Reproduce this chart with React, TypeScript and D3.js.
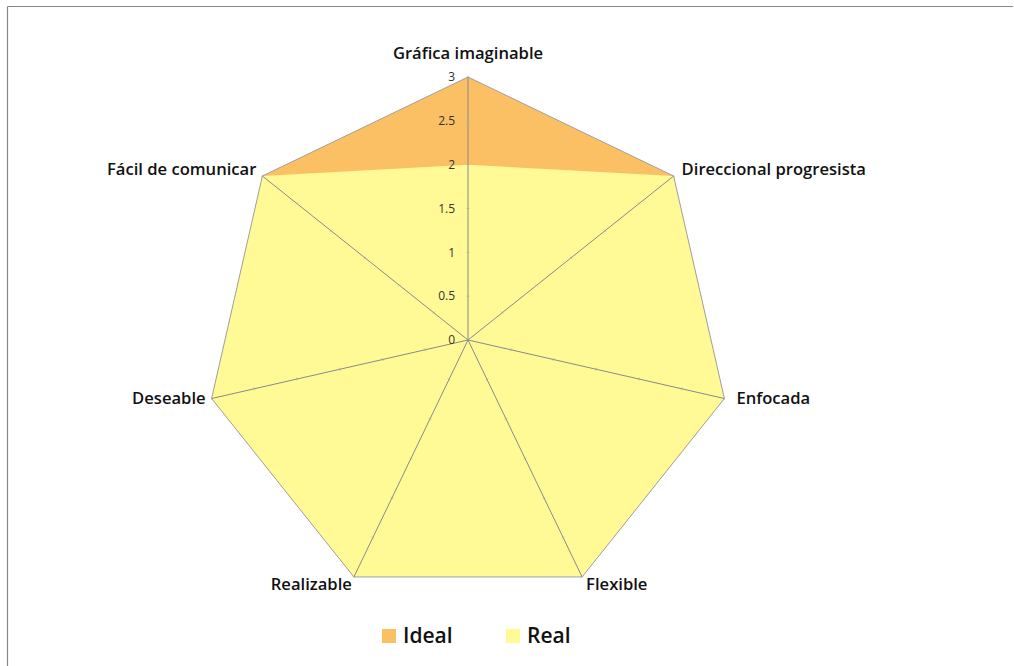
import React from "react";
import * as d3 from "d3";

const categories = [
  "Gráfica imaginable",
  "Direccional progresista",
  "Enfocada",
  "Flexible",
  "Realizable",
  "Deseable",
  "Fácil de comunicar",
];
const idealValues = [3, 3, 3, 3, 3, 3, 3];
const realValues = [2, 3, 3, 3, 3, 3, 3];
const tickValues = [0, 0.5, 1, 1.5, 2, 2.5, 3];
const tickLabels = ["0", "0.5", "1", "1.5", "2", "2.5", "3"];
const seriesNames = ["Ideal", "Real"];

const W = 1014;
const H = 666;
const cx = 468;
const cy = 340;
const R = 263;
const ORANGE = "#FBC063";
const YELLOW = "#FFFA96";
const FONT = "'Open Sans', Lato, sans-serif";

// label placement per axis: [dx, dy, anchor]
const labelOffsets: [number, number, string][] = [
  [0, -24, "middle"],
  [8, -7, "start"],
  [12, 0, "start"],
  [4, 7, "start"],
  [-2, 7, "end"],
  [-6, 0, "end"],
  [-6, -7, "end"],
];

export default function App() {
  const n = categories.length;
  const angle = d3
    .scaleLinear()
    .domain([0, n])
    .range([0, 2 * Math.PI]);
  const r = d3.scaleLinear().domain([0, 3]).range([0, R]);

  const pt = (i: number, v: number): [number, number] => {
    const a = angle(i);
    return [cx + r(v) * Math.sin(a), cy - r(v) * Math.cos(a)];
  };

  const line = d3
    .line<number>()
    .x((d, i) => pt(i, d)[0])
    .y((d, i) => pt(i, d)[1])
    .curve(d3.curveLinearClosed);

  return (
    <svg
      width={W}
      height={H}
      style={{ position: "absolute", left: 0, top: 0, background: "#fff" }}
    >
      <rect x={0} y={0} width={W} height={H} fill="#fff" />
      <line x1={7.5} y1={6.5} x2={1013} y2={6.5} stroke="#888" strokeWidth={1.2} />
      <line x1={7.5} y1={6.5} x2={7.5} y2={H} stroke="#888" strokeWidth={1.2} />

      <path d={line(idealValues) || ""} fill={ORANGE} stroke="none" />
      <path d={line(realValues) || ""} fill={YELLOW} stroke="none" />
      <path d={line(idealValues) || ""} fill="none" stroke="#a0a0a0" strokeWidth={1} />

      {categories.map((c, i) => {
        const [x, y] = pt(i, 3);
        return (
          <line key={"s" + i} x1={cx} y1={cy} x2={x} y2={y} stroke="#8a8a8a" strokeWidth={1} />
        );
      })}
      {categories.map((c, i) =>
        tickValues.slice(1).map((t) => {
          const [x, y] = pt(i, t);
          const a = angle(i);
          const px = Math.cos(a) * 1.5;
          const py = Math.sin(a) * 1.5;
          return (
            <line
              key={"t" + i + "-" + t}
              x1={x - px}
              y1={y - py}
              x2={x + px}
              y2={y + py}
              stroke="#b0b0a0"
              strokeWidth={0.8}
            />
          );
        })
      )}

      {tickValues.map((t, i) => (
        <text
          key={"tl" + i}
          x={455}
          y={cy - r(t)}
          dy="0.35em"
          textAnchor="end"
          fontFamily={FONT}
          fontSize={12}
          fill="#333"
        >
          {tickLabels[i]}
        </text>
      ))}

      {categories.map((c, i) => {
        const [x, y] = pt(i, 3);
        const [dx, dy, anchor] = labelOffsets[i];
        return (
          <text
            key={"c" + i}
            x={x + dx}
            y={y + dy}
            dy="0.35em"
            textAnchor={anchor as any}
            fontFamily={FONT}
            fontWeight={600}
            fontSize={16.6}
            fill="#111"
          >
            {c}
          </text>
        );
      })}

      <rect x={382} y={629} width={14} height={14} fill={ORANGE} />
      <text x={403} y={636} dy="0.35em" fontFamily={FONT} fontWeight={600} fontSize={21} fill="#111">
        {seriesNames[0]}
      </text>
      <rect x={506} y={629} width={14} height={14} fill={YELLOW} />
      <text x={527} y={636} dy="0.35em" fontFamily={FONT} fontWeight={600} fontSize={21} fill="#111">
        {seriesNames[1]}
      </text>
    </svg>
  );
}
